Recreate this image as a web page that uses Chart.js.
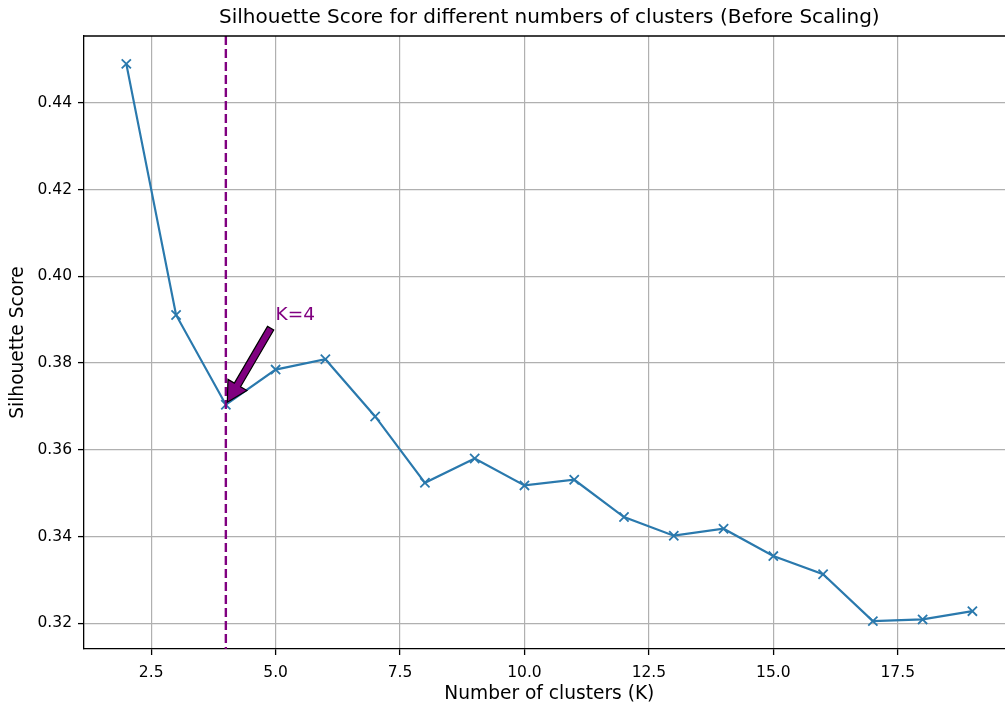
<!DOCTYPE html>
<html lang="en">
<head>
    <meta charset="UTF-8">
    <title>Silhouette Score</title>
    <script src="https://cdn.jsdelivr.net/npm/chart.js"></script>
    <style>
        body {
            margin: 0;
            padding: 0;
            background-color: #ffffff;
            overflow: hidden;
        }
        #wrap {
            width: 1023px;
            height: 706px;
        }
    </style>
</head>
<body>
    <div id="wrap">
        <canvas id="silChart" width="1023" height="706"></canvas>
    </div>

    <script>
        // values
        const ks = [2, 3, 4, 5, 6, 7, 8, 9, 10, 11, 12, 13, 14, 15, 16, 17, 18, 19];
        const scores = [0.4490, 0.3911, 0.3704, 0.3785, 0.3809, 0.3677, 0.3524, 0.3580, 0.3518,
                        0.3531, 0.3445, 0.3402, 0.3418, 0.3355, 0.3313, 0.3205, 0.3209, 0.3228];
        const bestK = 4;
        const labelPos = [5, 0.39];
        const titleText = 'Silhouette Score for different numbers of clusters (Before Scaling)';

        const FONT = "'DejaVu Sans', sans-serif";
        const LINE = '#2a79ad';
        const PURPLE = '#800080';

        // matplotlib style 5% margins
        const xPad = (Math.max(...ks) - Math.min(...ks)) * 0.05;
        const yPad = (Math.max(...scores) - Math.min(...scores)) * 0.05;

        const overlay = {
            id: 'overlay',
            afterDatasetsDraw(chart) {
                const ctx = chart.ctx;
                const area = chart.chartArea;
                const xs = chart.scales.x;
                const ys = chart.scales.y;

                // dashed vertical line at the chosen K
                const vx = xs.getPixelForValue(bestK);
                ctx.save();
                ctx.strokeStyle = PURPLE;
                ctx.lineWidth = 2.4;
                ctx.setLineDash([9, 4]);
                ctx.beginPath();
                ctx.moveTo(vx, area.top);
                ctx.lineTo(vx, area.bottom);
                ctx.stroke();
                ctx.restore();

                // arrow from the label to the point
                const px = vx;
                const py = ys.getPixelForValue(scores[ks.indexOf(bestK)]);
                const tx = xs.getPixelForValue(labelPos[0]);
                const ty = ys.getPixelForValue(labelPos[1]);
                const dx = px - tx, dy = py - ty;
                const len = Math.hypot(dx, dy);
                const ux = dx / len, uy = dy / len;
                const nx = -uy, ny = ux;
                const sx = tx + dx * 0.1, sy = ty + dy * 0.1;
                const ex = px - dx * 0.03, ey = py - dy * 0.03;
                const hw = 11, hl = 20, sw = 3.6;
                const bx = ex - ux * hl, by = ey - uy * hl;
                ctx.save();
                ctx.beginPath();
                ctx.moveTo(sx + nx * sw, sy + ny * sw);
                ctx.lineTo(bx + nx * sw, by + ny * sw);
                ctx.lineTo(bx + nx * hw, by + ny * hw);
                ctx.lineTo(ex, ey);
                ctx.lineTo(bx - nx * hw, by - ny * hw);
                ctx.lineTo(bx - nx * sw, by - ny * sw);
                ctx.lineTo(sx - nx * sw, sy - ny * sw);
                ctx.closePath();
                ctx.fillStyle = PURPLE;
                ctx.fill();
                ctx.strokeStyle = '#000000';
                ctx.lineWidth = 1.2;
                ctx.stroke();

                // annotation text
                ctx.fillStyle = PURPLE;
                ctx.font = '18.5px ' + FONT;
                ctx.textAlign = 'left';
                ctx.textBaseline = 'alphabetic';
                ctx.fillText('K=' + bestK, tx, ty);

                // top spine
                ctx.strokeStyle = '#000000';
                ctx.lineWidth = 1.3;
                ctx.beginPath();
                ctx.moveTo(area.left, area.top);
                ctx.lineTo(area.right, area.top);
                ctx.stroke();

                // title centred over the axes
                ctx.fillStyle = '#000000';
                ctx.font = '20px ' + FONT;
                ctx.textAlign = 'center';
                ctx.textBaseline = 'middle';
                ctx.fillText(titleText, (area.left + area.right) / 2, 18);
                ctx.restore();
            }
        };

        const ctx = document.getElementById('silChart').getContext('2d');

        const silChart = new Chart(ctx, {
            type: 'line',
            data: {
                datasets: [{
                    label: 'Silhouette Score',
                    data: ks.map((k, i) => ({ x: k, y: scores[i] })),
                    borderColor: LINE,
                    backgroundColor: LINE,
                    borderWidth: 2.2,
                    pointStyle: 'crossRot',
                    pointRadius: 6.5,
                    pointBorderWidth: 1.8,
                    pointBorderColor: LINE,
                    tension: 0
                }]
            },
            options: {
                responsive: false,
                animation: false,
                devicePixelRatio: 1,
                layout: {
                    padding: { top: 36, right: 4, left: 0, bottom: 0 }
                },
                plugins: {
                    legend: { display: false },
                    tooltip: { enabled: false },
                    title: { display: false }
                },
                scales: {
                    x: {
                        type: 'linear',
                        min: Math.min(...ks) - xPad,
                        max: Math.max(...ks) + xPad,
                        afterFit(scale) { scale.height = 57; },
                        border: { color: '#000000', width: 1.3 },
                        grid: {
                            color: '#b0b0b0',
                            lineWidth: 1.2,
                            tickColor: '#000000',
                            tickLength: 6,
                            tickWidth: 1.3
                        },
                        ticks: {
                            stepSize: 2.5,
                            includeBounds: false,
                            maxRotation: 0,
                            padding: 9,
                            color: '#000000',
                            font: { family: FONT, size: 15.5 },
                            callback: v => v.toFixed(1)
                        },
                        title: {
                            display: true,
                            text: 'Number of clusters (K)',
                            color: '#000000',
                            font: { family: FONT, size: 18.6 },
                            padding: { top: 0, bottom: 1 }
                        }
                    },
                    y: {
                        min: Math.min(...scores) - yPad,
                        max: Math.max(...scores) + yPad,
                        afterFit(scale) { scale.width = 84; },
                        border: { color: '#000000', width: 1.3 },
                        grid: {
                            color: '#b0b0b0',
                            lineWidth: 1.2,
                            tickColor: '#000000',
                            tickLength: 6,
                            tickWidth: 1.3
                        },
                        ticks: {
                            stepSize: 0.02,
                            includeBounds: false,
                            padding: 6,
                            color: '#000000',
                            font: { family: FONT, size: 15.5 },
                            callback: v => v.toFixed(2)
                        },
                        title: {
                            display: true,
                            text: 'Silhouette Score',
                            color: '#000000',
                            font: { family: FONT, size: 18.6 },
                            padding: { top: 7, bottom: 0 }
                        }
                    }
                }
            },
            plugins: [overlay]
        });
    </script>
</body>
</html>
